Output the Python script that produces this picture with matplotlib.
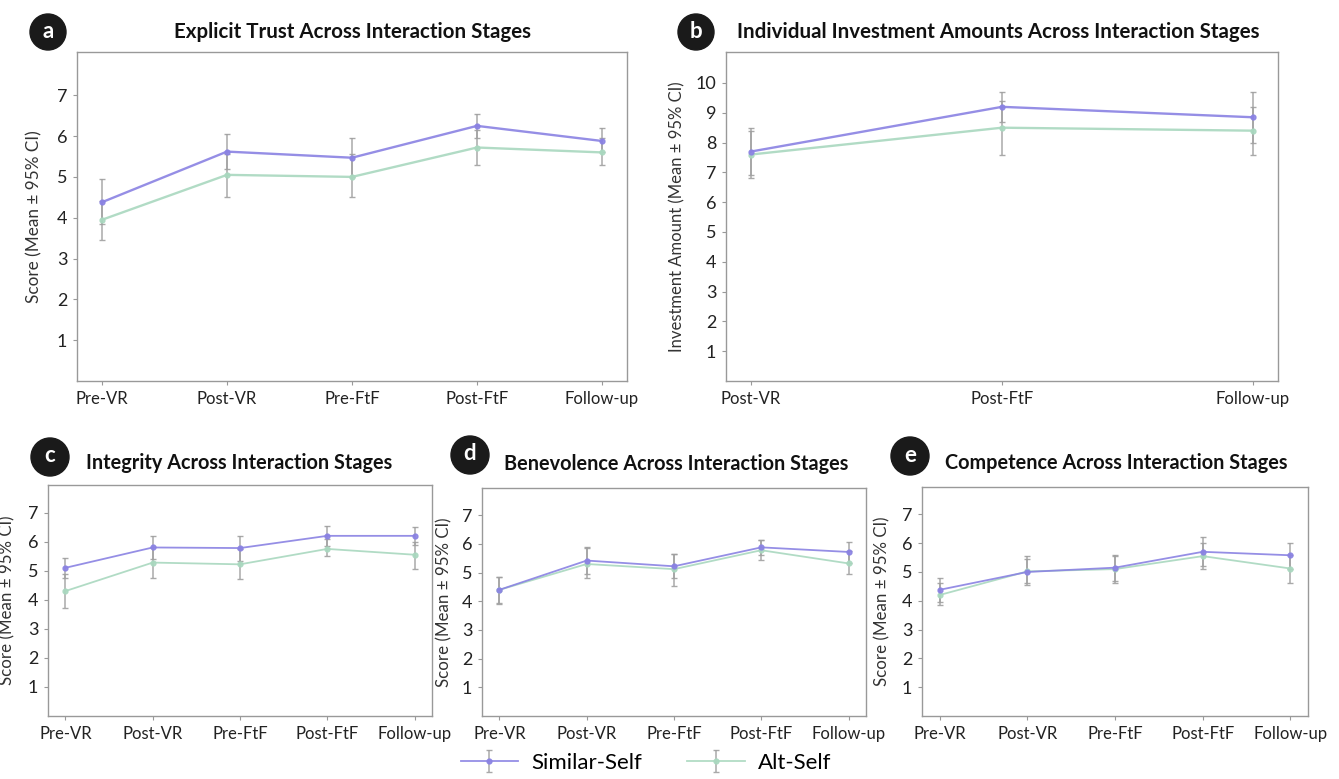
import numpy as np
import matplotlib.pyplot as plt
from matplotlib.patches import Ellipse

plt.rcParams['font.family'] = ['Lato', 'DejaVu Sans']

stages5 = ["Pre-VR", "Post-VR", "Pre-FtF", "Post-FtF", "Follow-up"]
stages3 = ["Post-VR", "Post-FtF", "Follow-up"]

# mean, lower CI, upper CI per group
trust_sim = [4.38, 5.62, 5.47, 6.25, 5.88]
trust_sim_lo = [3.85, 5.20, 5.00, 5.95, 5.60]
trust_sim_hi = [4.95, 6.05, 5.95, 6.55, 6.20]
trust_alt = [3.95, 5.05, 5.00, 5.72, 5.60]
trust_alt_lo = [3.45, 4.50, 4.50, 5.30, 5.30]
trust_alt_hi = [4.40, 5.55, 5.55, 6.15, 5.95]

invest_sim = [7.70, 9.20, 8.85]
invest_sim_lo = [6.90, 8.70, 8.00]
invest_sim_hi = [8.50, 9.70, 9.70]
invest_alt = [7.60, 8.50, 8.40]
invest_alt_lo = [6.80, 7.60, 7.60]
invest_alt_hi = [8.40, 9.40, 9.20]

integ_sim = [5.10, 5.80, 5.78, 6.20, 6.20]
integ_sim_lo = [4.75, 5.40, 5.35, 5.85, 5.90]
integ_sim_hi = [5.45, 6.20, 6.20, 6.55, 6.50]
integ_alt = [4.30, 5.28, 5.22, 5.75, 5.55]
integ_alt_lo = [3.70, 4.75, 4.70, 5.50, 5.05]
integ_alt_hi = [4.90, 5.80, 5.75, 6.10, 6.00]

benev_sim = [4.40, 5.42, 5.22, 5.88, 5.72]
benev_sim_lo = [3.95, 4.95, 4.80, 5.60, 5.35]
benev_sim_hi = [4.85, 5.90, 5.65, 6.15, 6.05]
benev_alt = [4.40, 5.30, 5.12, 5.78, 5.32]
benev_alt_lo = [3.90, 4.80, 4.55, 5.45, 4.95]
benev_alt_hi = [4.85, 5.85, 5.65, 6.15, 5.75]

compet_sim = [4.38, 5.00, 5.15, 5.70, 5.58]
compet_sim_lo = [3.95, 4.55, 4.70, 5.20, 5.10]
compet_sim_hi = [4.80, 5.45, 5.55, 6.20, 6.00]
compet_alt = [4.20, 5.02, 5.10, 5.55, 5.12]
compet_alt_lo = [3.85, 4.60, 4.60, 5.10, 4.60]
compet_alt_hi = [4.60, 5.55, 5.60, 6.00, 5.60]

SIM_COLOR = '#8a82e3'
ALT_COLOR = '#a9d8bf'
ERR_COLOR = '#a0a0a0'

W, H = 1339, 779
fig = plt.figure(figsize=(W / 100, H / 100), dpi=100)


def px_axes(left, top, right, bottom):
    return fig.add_axes([left / W, (H - bottom) / H, (right - left) / W, (bottom - top) / H])


def draw_panel(ax, labels, sim, sim_lo, sim_hi, alt, alt_lo, alt_hi, ymax, yticks, ylabel,
               fs, lfs, lx, lw):
    x = np.arange(len(labels))
    sim = np.array(sim); alt = np.array(alt)
    for vals, lo, hi, col, name in [(alt, alt_lo, alt_hi, ALT_COLOR, 'Alt-Self'),
                                    (sim, sim_lo, sim_hi, SIM_COLOR, 'Similar-Self')]:
        err = [vals - np.array(lo), np.array(hi) - vals]
        ax.errorbar(x, vals, yerr=err, color=col, ecolor=ERR_COLOR, elinewidth=1.1,
                    capsize=2.5, capthick=1, marker='o', markersize=3.5, linewidth=lw,
                    label=name, alpha=0.9)
    ax.set_xticks(x)
    ax.set_xticklabels(labels, fontsize=fs)
    ax.set_yticks(yticks)
    ax.set_yticklabels([str(t) for t in yticks], fontsize=fs + 1)
    ax.set_xlim(-0.2, len(labels) - 0.8)
    ax.set_ylim(0, ymax)
    ax.set_ylabel(ylabel, fontsize=lfs, color='#333333')
    ax.yaxis.set_label_coords(lx, 0.5)
    ax.tick_params(length=3, color='#999999', labelcolor='#222222', pad=4)
    for s in ax.spines.values():
        s.set_color('#999999')
        s.set_linewidth(1)


def badge(xp, yp, letter, r):
    fx, fy = xp / W, (H - yp) / H
    e = Ellipse((fx, fy), 2 * r / W, 2 * r / H, transform=fig.transFigure, color='#1a1a1a', zorder=5)
    fig.add_artist(e)
    fig.text(fx, fy + 1 / H, letter, color='white', fontsize=16, fontweight='bold',
             ha='center', va='center', zorder=6)


ax_a = px_axes(77, 52, 627, 381)
draw_panel(ax_a, stages5, trust_sim, trust_sim_lo, trust_sim_hi, trust_alt, trust_alt_lo, trust_alt_hi,
           8.06, range(1, 8), 'Score (Mean ± 95% CI)', 12, 12.3, -0.062, 1.7)

ax_b = px_axes(726, 52, 1278, 381)
draw_panel(ax_b, stages3, invest_sim, invest_sim_lo, invest_sim_hi, invest_alt, invest_alt_lo, invest_alt_hi,
           11.04, range(1, 11), 'Investment Amount (Mean ± 95% CI)', 12, 12, -0.074, 1.7)
ax_b.set_xlim(-0.1, 2.1)

ax_c = px_axes(48, 485, 432, 716)
draw_panel(ax_c, stages5, integ_sim, integ_sim_lo, integ_sim_hi, integ_alt, integ_alt_lo, integ_alt_hi,
           7.95, range(1, 8), 'Score (Mean ± 95% CI)', 12, 12.2, -0.086, 1.3)

ax_d = px_axes(482, 488, 866, 716)
draw_panel(ax_d, stages5, benev_sim, benev_sim_lo, benev_sim_hi, benev_alt, benev_alt_lo, benev_alt_hi,
           7.95, range(1, 8), 'Score (Mean ± 95% CI)', 12, 12.2, -0.078, 1.3)

ax_e = px_axes(922, 487, 1308, 716)
draw_panel(ax_e, stages5, compet_sim, compet_sim_lo, compet_sim_hi, compet_alt, compet_alt_lo, compet_alt_hi,
           7.95, range(1, 8), 'Score (Mean ± 95% CI)', 12, 12.2, -0.083, 1.3)

titles = [
    (352, 32, 'Explicit Trust Across Interaction Stages', 14.8),
    (998, 32, 'Individual Investment Amounts Across Interaction Stages', 14.8),
    (239, 463, 'Integrity Across Interaction Stages', 14.3),
    (676, 464, 'Benevolence Across Interaction Stages', 14.3),
    (1116, 463, 'Competence Across Interaction Stages', 14.3),
]
for xp, yp, t, fsz in titles:
    fig.text(xp / W, (H - yp) / H, t, fontsize=fsz, fontweight='bold', ha='center', va='center',
             color='#111111')

badge(48, 32, 'a', 18)
badge(696, 32, 'b', 18)
badge(50, 457, 'c', 19)
badge(470, 455, 'd', 19)
badge(910, 456, 'e', 19)

handles, labels = ax_d.get_legend_handles_labels()
fig.legend(handles[::-1], labels[::-1], loc='center', bbox_to_anchor=(646 / W, (H - 763) / H),
           ncol=2, frameon=False, fontsize=16, handlelength=2.6, handletextpad=0.6,
           columnspacing=2.0)

fig.savefig('out.png', dpi=100)
